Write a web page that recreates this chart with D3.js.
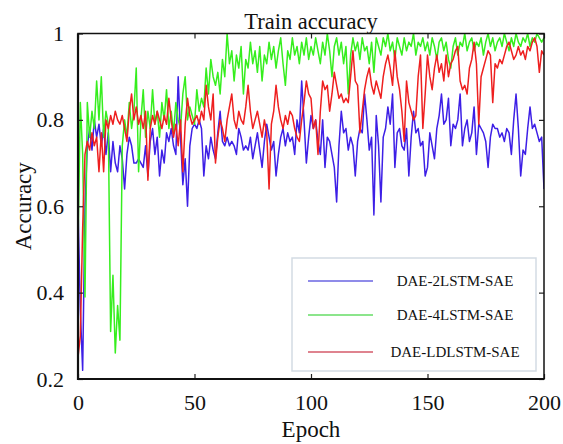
<!DOCTYPE html>
<html>
<head>
<meta charset="utf-8">
<script src="https://cdn.jsdelivr.net/npm/d3@7"></script>
<style>
  html, body { margin: 0; padding: 0; background: #fff; }
  svg { display: block; }
  text { font-family: "Liberation Serif", "Times New Roman", serif; fill: #111; }
</style>
</head>
<body>
<svg id="chart" width="563" height="444"></svg>
<script>
// Training accuracy per epoch (epochs 0..200) for three model variants
const seriesNames = ["DAE-2LSTM-SAE", "DAE-4LSTM-SAE", "DAE-LDLSTM-SAE"];
const seriesColors = ["#3d1fe6", "#36ee1e", "#ee1f1f"];
const legendColors = ["#6a64e2", "#66dd66", "#d45a6a"];

const acc2LSTM = [
  0.60, 0.36, 0.22, 0.60, 0.74, 0.78, 0.73, 0.80, 0.76, 0.79,
  0.74, 0.78, 0.72, 0.77, 0.68, 0.75, 0.70, 0.68, 0.74, 0.71,
  0.64, 0.72, 0.76, 0.74, 0.70, 0.70, 0.71, 0.70, 0.69, 0.74,
  0.67, 0.75, 0.78, 0.72, 0.76, 0.67, 0.73, 0.70, 0.77, 0.75,
  0.78, 0.74, 0.72, 0.90, 0.76, 0.65, 0.71, 0.60, 0.74, 0.78,
  0.79, 0.78, 0.80, 0.78, 0.67, 0.74, 0.71, 0.76, 0.73, 0.71,
  0.77, 0.82, 0.75, 0.74, 0.76, 0.74, 0.75, 0.74, 0.72, 0.78,
  0.76, 0.73, 0.74, 0.73, 0.76, 0.71, 0.74, 0.77, 0.73, 0.69,
  0.75, 0.79, 0.76, 0.73, 0.75, 0.67, 0.72, 0.76, 0.78, 0.74,
  0.77, 0.75, 0.76, 0.72, 0.80, 0.77, 0.89, 0.80, 0.70, 0.76,
  0.81, 0.78, 0.80, 0.75, 0.72, 0.80, 0.69, 0.76, 0.75, 0.72,
  0.69, 0.61, 0.74, 0.82, 0.77, 0.78, 0.73, 0.76, 0.74, 0.67,
  0.75, 0.78, 0.77, 0.86, 0.80, 0.73, 0.76, 0.58, 0.81, 0.74,
  0.61, 0.76, 0.78, 0.83, 0.79, 0.86, 0.69, 0.77, 0.78, 0.74,
  0.73, 0.78, 0.67, 0.76, 0.82, 0.77, 0.78, 0.74, 0.75, 0.67,
  0.69, 0.77, 0.74, 0.71, 0.78, 0.81, 0.86, 0.79, 0.80, 0.85,
  0.74, 0.79, 0.78, 0.80, 0.86, 0.74, 0.78, 0.80, 0.75, 0.77,
  0.83, 0.72, 0.79, 0.78, 0.77, 0.75, 0.69, 0.76, 0.79, 0.78,
  0.78, 0.76, 0.77, 0.75, 0.78, 0.77, 0.72, 0.80, 0.86, 0.78,
  0.67, 0.73, 0.72, 0.78, 0.83, 0.78, 0.79, 0.77, 0.75, 0.76,
  0.64
];

const acc4LSTM = [
  0.50, 0.84, 0.72, 0.39, 0.84, 0.76, 0.82, 0.78, 0.89, 0.80,
  0.90, 0.76, 0.82, 0.79, 0.31, 0.44, 0.26, 0.37, 0.29, 0.74,
  0.80, 0.76, 0.84, 0.78, 0.82, 0.92, 0.68, 0.80, 0.87, 0.76,
  0.82, 0.78, 0.87, 0.79, 0.82, 0.76, 0.84, 0.80, 0.87, 0.78,
  0.82, 0.77, 0.84, 0.80, 0.78, 0.86, 0.90, 0.80, 0.83, 0.81,
  0.79, 0.87, 0.82, 0.85, 0.83, 0.92, 0.86, 0.94, 0.90, 0.88,
  0.91, 0.86, 0.94, 0.90, 1.00, 0.93, 0.96, 0.89, 0.95, 0.92,
  0.97, 0.86, 0.94, 0.92, 0.98, 0.93, 0.96, 0.91, 0.97, 0.89,
  0.95, 0.93, 0.98, 0.94, 0.97, 0.92, 0.96, 0.99, 0.93, 0.88,
  0.96, 0.94, 0.99, 0.95, 0.97, 0.93, 0.98, 0.95, 0.99, 0.94,
  0.97, 0.95, 0.99, 0.96, 0.93, 0.98, 0.95, 1.00, 0.96, 0.90,
  0.97, 0.99, 0.95, 0.98, 0.93, 0.97, 0.86, 0.95, 0.99, 0.96,
  0.98, 0.94, 0.99, 0.96, 0.97, 0.93, 0.98, 0.91, 0.99, 0.97,
  0.95, 0.99, 0.97, 1.00, 0.96, 0.98, 0.94, 0.99, 0.97, 0.95,
  0.99, 0.96, 0.98, 0.97, 1.00, 0.95, 0.98, 0.97, 0.99, 0.96,
  0.98, 0.95, 0.99, 0.97, 0.94, 0.98, 0.99, 0.96, 0.98, 0.94,
  0.92, 0.97, 0.99, 0.95, 0.98, 0.97, 1.00, 0.96, 0.98, 0.99,
  0.96, 0.98, 0.97, 0.99, 0.95, 0.98, 1.00, 0.97, 0.99, 0.96,
  0.98, 0.99, 0.97, 1.00, 0.98, 0.96, 0.99, 0.97, 1.00, 0.98,
  0.97, 0.99, 0.98, 1.00, 0.97, 0.99, 0.98, 1.00, 0.99, 0.98,
  0.99
];

const accLDLSTM = [
  0.25, 0.30, 0.55, 0.72, 0.75, 0.73, 0.77, 0.74, 0.76, 0.68,
  0.77, 0.68, 0.80, 0.78, 0.81, 0.79, 0.82, 0.80, 0.79, 0.81,
  0.78, 0.75, 0.82, 0.86, 0.80, 0.83, 0.79, 0.81, 0.78, 0.82,
  0.66, 0.78, 0.81, 0.79, 0.82, 0.80, 0.78, 0.81, 0.79, 0.85,
  0.80, 0.76, 0.79, 0.74, 0.80, 0.68, 0.79, 0.85, 0.81, 0.79,
  0.80, 0.81, 0.79, 0.82, 0.80, 0.88, 0.83, 0.80, 0.86, 0.70,
  0.76, 0.80, 0.78, 0.75, 0.80, 0.83, 0.86, 0.80, 0.78, 0.82,
  0.80, 0.79, 0.83, 0.88, 0.82, 0.78, 0.80, 0.82, 0.79, 0.76,
  0.80, 0.77, 0.64, 0.79, 0.82, 0.88, 0.83, 0.80, 0.78, 0.81,
  0.79, 0.82, 0.81, 0.78, 0.76, 0.75, 0.80, 0.84, 0.89, 0.86,
  0.85, 0.78, 0.80, 0.72, 0.82, 0.89, 0.87, 0.88, 0.82, 0.86,
  0.91, 0.88, 0.85, 0.86, 0.84, 0.85, 0.84, 0.90, 0.96, 0.89,
  0.88, 0.77, 0.82, 0.87, 0.90, 0.92, 0.88, 0.86, 0.89, 0.87,
  0.85, 0.90, 0.93, 0.95, 0.92, 0.88, 0.96, 0.90, 0.87, 0.82,
  0.75, 0.89, 0.84, 0.82, 0.80, 0.81, 0.90, 0.95, 0.78, 0.86,
  0.95, 0.90, 0.87, 0.92, 0.95, 0.91, 0.93, 0.89, 0.95, 0.90,
  0.93, 0.94, 0.96, 0.97, 0.89, 0.87, 0.88, 0.86, 0.92, 0.94,
  0.98, 0.93, 0.79, 0.90, 0.92, 0.94, 0.96, 0.95, 0.84, 0.93,
  0.92, 0.94, 0.93, 0.95, 0.97, 0.98, 0.96, 0.94, 0.95, 0.97,
  0.95, 0.96, 0.94, 0.97, 0.96, 0.98, 0.99, 0.97, 0.91, 0.96,
  0.95
];

const xTicks = [0, 50, 100, 150, 200];
const yTicks = [0.2, 0.4, 0.6, 0.8, 1];

const seriesValues = [acc2LSTM, acc4LSTM, accLDLSTM];

const svg = d3.select("#chart");
const margin = { left: 78, right: 19, top: 33.5, bottom: 65 };
const W = 563, H = 444;
const x0 = margin.left, x1 = W - margin.right;
const y0 = H - margin.bottom, y1 = margin.top;

const x = d3.scaleLinear().domain([0, 200]).range([x0, x1]);
const y = d3.scaleLinear().domain([0.2, 1]).range([y0, y1]);

// clip the traces to the axes box
svg.append("defs").append("clipPath").attr("id", "plotClip")
  .append("rect").attr("x", x0).attr("y", y1).attr("width", x1 - x0).attr("height", y0 - y1);

const line = d3.line().x((d, i) => x(i)).y(d => y(d));

const traces = svg.append("g").attr("clip-path", "url(#plotClip)");
seriesValues.forEach((vals, k) => {
  traces.append("path")
    .datum(vals)
    .attr("fill", "none")
    .attr("stroke", seriesColors[k])
    .attr("stroke-width", 1.5)
    .attr("stroke-linejoin", "round")
    .attr("d", line);
});

// axes with inward ticks on all four sides
const fmtY = d => (d === 1 ? "1" : d3.format(".1f")(d));
const bottomAxis = svg.append("g").attr("transform", `translate(0,${y0})`)
  .call(d3.axisBottom(x).tickValues(xTicks).tickSizeInner(-5).tickSizeOuter(0).tickPadding(15));
const leftAxis = svg.append("g").attr("transform", `translate(${x0},0)`)
  .call(d3.axisLeft(y).tickValues(yTicks).tickFormat(fmtY).tickSizeInner(-5).tickSizeOuter(0).tickPadding(14));
const topAxis = svg.append("g").attr("transform", `translate(0,${y1})`)
  .call(d3.axisTop(x).tickValues(xTicks).tickSizeInner(-5).tickSizeOuter(0).tickFormat(""));
const rightAxis = svg.append("g").attr("transform", `translate(${x1},0)`)
  .call(d3.axisRight(y).tickValues(yTicks).tickSizeInner(-5).tickSizeOuter(0).tickFormat(""));

[bottomAxis, leftAxis, topAxis, rightAxis].forEach(g => {
  g.select(".domain").remove();
  g.selectAll(".tick line").attr("stroke", "#222").attr("stroke-width", 1.2);
  g.selectAll(".tick text").attr("font-family", "Liberation Serif, serif")
    .attr("font-size", 22).attr("fill", "#111");
});

// axes frame
svg.append("rect")
  .attr("x", x0).attr("y", y1).attr("width", x1 - x0).attr("height", y0 - y1)
  .attr("fill", "none").attr("stroke", "#111").attr("stroke-width", 1.5);
svg.append("line").attr("x1", x0).attr("x2", x0).attr("y1", y1).attr("y2", y0 + 1)
  .attr("stroke", "#111").attr("stroke-width", 2.2);
svg.append("line").attr("x1", x0 - 1).attr("x2", x1).attr("y1", y0).attr("y2", y0)
  .attr("stroke", "#111").attr("stroke-width", 2.2);

// titles
svg.append("text").attr("x", (x0 + x1) / 2).attr("y", 29)
  .attr("text-anchor", "middle").attr("font-size", 22.5).text("Train accuracy");
svg.append("text").attr("x", (x0 + x1) / 2).attr("y", 437)
  .attr("text-anchor", "middle").attr("font-size", 23).text("Epoch");
svg.append("text")
  .attr("transform", `translate(31,${(y0 + y1) / 2}) rotate(-90)`)
  .attr("text-anchor", "middle").attr("font-size", 23).text("Accuracy");

// legend
const legend = svg.append("g");
legend.append("rect")
  .attr("x", 292).attr("y", 258).attr("width", 244).attr("height", 113)
  .attr("fill", "#fff").attr("stroke", "#d3dbe4").attr("stroke-width", 1.5);
const rowY = [281, 315, 352];
seriesNames.forEach((name, k) => {
  legend.append("line")
    .attr("x1", 308).attr("x2", 373).attr("y1", rowY[k]).attr("y2", rowY[k])
    .attr("stroke", legendColors[k]).attr("stroke-width", 1.5);
  legend.append("text")
    .attr("x", 455).attr("y", rowY[k] + 5)
    .attr("text-anchor", "middle").attr("font-size", 15)
    .text(name);
});
</script>
</body>
</html>
